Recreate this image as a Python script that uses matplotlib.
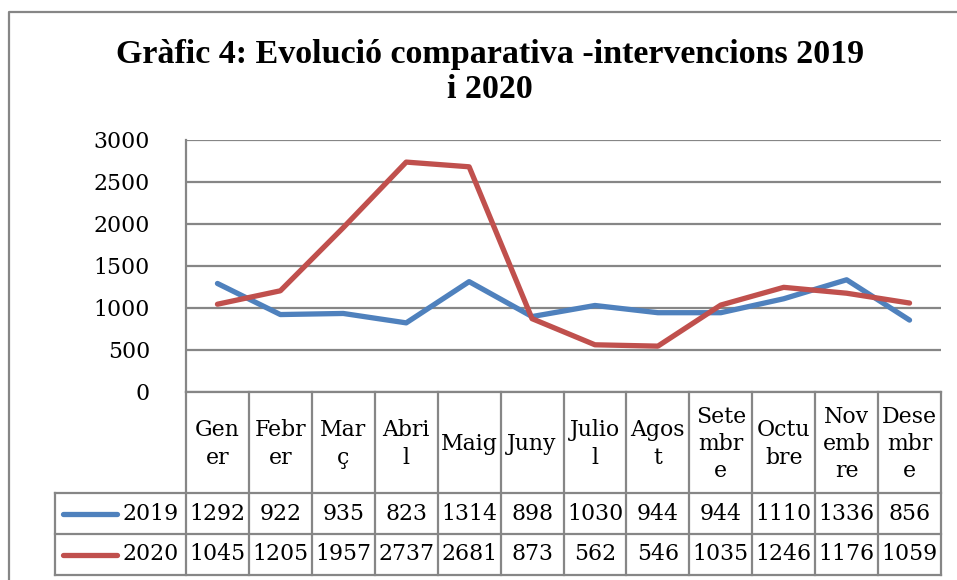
import matplotlib
matplotlib.use("Agg")
import matplotlib.pyplot as plt
from matplotlib.transforms import blended_transform_factory

months = ["Gen\ner", "Febr\ner", "Mar\nç", "Abri\nl", "Maig", "Juny",
          "Julio\nl", "Agos\nt", "Sete\nmbr\ne", "Octu\nbre", "Nov\nemb\nre", "Dese\nmbr\ne"]
v2019 = [1292, 922, 935, 823, 1314, 898, 1030, 944, 944, 1110, 1336, 856]
v2020 = [1045, 1205, 1957, 2737, 2681, 873, 562, 546, 1035, 1246, 1176, 1059]
series = [("2019", v2019, "#4F81BD"), ("2020", v2020, "#C0504D")]
title = "Gràfic 4: Evolució comparativa -intervencions 2019\ni 2020"

W, H = 957, 580
grey = "#868686"
fs = 15.8
serif = ["DejaVu Serif"]

fig = plt.figure(figsize=(W / 100, H / 100), dpi=100)

def box(l, t, r, b):
    return [l / W, 1 - b / H, (r - l) / W, (b - t) / H]

# plot area
ax = fig.add_axes(box(186, 140, 941, 392))
x = list(range(len(months)))
for name, vals, col in series:
    ax.plot(x, vals, color=col, lw=3.8, solid_capstyle="round", solid_joinstyle="round")
ax.set_xlim(-0.5, len(months) - 0.5)
ax.set_ylim(0, 3000)
ax.set_yticks(range(0, 3001, 500))
ax.set_xticks([])
ax.grid(axis="y", color=grey, lw=1.6)
ax.set_axisbelow(True)
for s in ["top", "right", "bottom"]:
    ax.spines[s].set_visible(False)
ax.spines["left"].set_color(grey)
ax.spines["left"].set_linewidth(1.6)
ax.tick_params(axis="y", length=0, pad=26, labelsize=fs)
for lab in ax.get_yticklabels():
    lab.set_family(serif)

# overlay in pixel coordinates for border, title and data table
ov = fig.add_axes([0, 0, 1, 1], zorder=-1)
ov.set_xlim(0, W)
ov.set_ylim(H, 0)
ov.axis("off")
ov.plot([9, 9, W], [H, 12, 12], color=grey, lw=1.6)
ov.text(490, 72, title, ha="center", va="center", fontsize=24.5, fontweight="bold",
        family=["Liberation Serif"], linespacing=1.2)

tab = fig.add_axes([0, 0, 1, 1], zorder=2)
tab.set_xlim(0, W)
tab.set_ylim(H, 0)
tab.axis("off")
tr = blended_transform_factory(ax.transData, tab.transData)

top, hdr, mid, bot = 392, 493, 534, 575
lw = 1.6
tab.plot([186, 941], [top, top], color=grey, lw=lw)
for yy in [hdr, mid, bot]:
    tab.plot([55, 941], [yy, yy], color=grey, lw=lw)
tab.plot([55, 55], [hdr, bot], color=grey, lw=lw)
for i in range(len(months) + 1):
    tab.plot([i - 0.5, i - 0.5], [top, bot], color=grey, lw=lw, transform=tr)

for i, m in enumerate(months):
    tab.text(i, 444, m, ha="center", va="center", fontsize=fs, family=serif,
             linespacing=1.3, transform=tr)

for r, (name, vals, col) in enumerate(series):
    yc = (hdr + mid) / 2 if r == 0 else (mid + bot) / 2
    tab.plot([63, 117], [yc, yc], color=col, lw=3.8, solid_capstyle="round")
    tab.text(179, yc, name, ha="right", va="center", fontsize=fs, family=serif)
    for i, v in enumerate(vals):
        tab.text(i, yc, str(v), ha="center", va="center", fontsize=fs, family=serif,
                 transform=tr)

fig.savefig("out.png", dpi=100)
